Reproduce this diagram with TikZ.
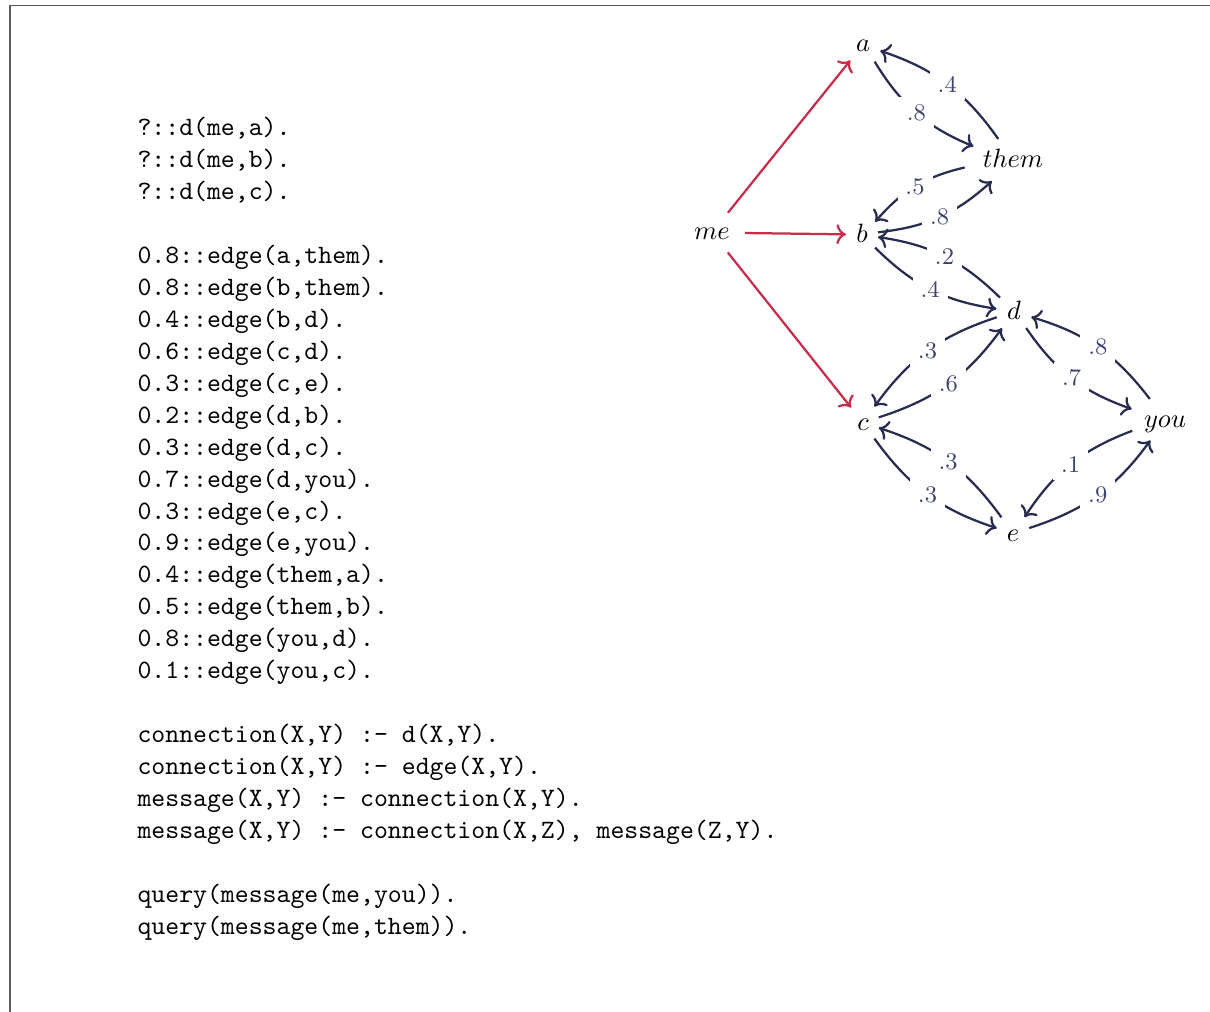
\documentclass[tikz,border=0pt]{standalone}
\usetikzlibrary{arrows.meta,shapes.geometric}
\definecolor{edgenavy}{RGB}{40,44,80}
\definecolor{labelblue}{RGB}{62,68,110}
\definecolor{crimson}{RGB}{200,45,75}
\begin{document}
\begin{tikzpicture}[x=0.3774pt,y=-0.3774pt,
  vertex/.style={ellipse,inner sep=2pt,text height=1.55ex,text depth=.25ex,anchor=base,font=\normalsize},
  tip/.style={-{To[length=3.6pt,width=7.5pt]}},
  link/.style={draw=edgenavy,line width=0.85pt,tip,bend right=18},
  start/.style={draw=crimson,line width=0.85pt,tip},
  weight/.style={fill=white,inner sep=3pt,text=labelblue,font=\small},
  codeline/.style={anchor=base west,inner sep=0pt,font=\ttfamily}]
\useasboundingbox (0,0) rectangle (1210,1011);
\draw[black!65,line width=0.6pt] (10,5.5) rectangle (1230,1030);

% program text
\foreach \i/\t in {0/{?::d(me,a).},1/{?::d(me,b).},2/{?::d(me,c).},
  4/{0.8::edge(a,them).},5/{0.8::edge(b,them).},6/{0.4::edge(b,d).},
  7/{0.6::edge(c,d).},8/{0.3::edge(c,e).},9/{0.2::edge(d,b).},
  10/{0.3::edge(d,c).},11/{0.7::edge(d,you).},12/{0.3::edge(e,c).},
  13/{0.9::edge(e,you).},14/{0.4::edge(them,a).},15/{0.5::edge(them,b).},
  16/{0.8::edge(you,d).},17/{0.1::edge(you,c).},
  19/{connection(X,Y) :- d(X,Y).},20/{connection(X,Y) :- edge(X,Y).},
  21/{message(X,Y) :- connection(X,Y).},
  22/{message(X,Y) :- connection(X,Z), message(Z,Y).},
  24/{query(message(me,you)).},25/{query(message(me,them)).}}
  \node[codeline] (l\i) at (137,136+31.92*\i) {\t};

% graph nodes
\node[vertex] (me)   at (712,240) {$me$};
\node[vertex] (a)    at (863,52)  {$a$};
\node[vertex] (b)    at (862,242) {$b$};
\node[vertex] (them) at (1013,168) {$them$};
\node[vertex] (d)    at (1014,319) {$d$};
\node[vertex] (c)    at (863,430) {$c$};
\node[vertex] (you)  at (1165,427) {$you$};
\node[vertex] (e)    at (1013,541) {$e$};

% decisions
\draw[start] (me) -- (a);
\draw[start] (me) -- (b);
\draw[start] (me) -- (c);

% probabilistic edges
\path (a) edge[link] node[weight] {.8} (them)
      (them) edge[link] node[weight] {.4} (a)
      (b) edge[link] node[weight] {.8} (them)
      (them) edge[link] node[weight] {.5} (b)
      (b) edge[link] node[weight] {.4} (d)
      (d) edge[link] node[weight] {.2} (b)
      (c) edge[link] node[weight] {.6} (d)
      (d) edge[link] node[weight] {.3} (c)
      (d) edge[link] node[weight] {.7} (you)
      (you) edge[link] node[weight] {.8} (d)
      (c) edge[link] node[weight] {.3} (e)
      (e) edge[link] node[weight] {.3} (c)
      (e) edge[link] node[weight] {.9} (you)
      (you) edge[link] node[weight] {.1} (e);
\end{tikzpicture}
\end{document}
